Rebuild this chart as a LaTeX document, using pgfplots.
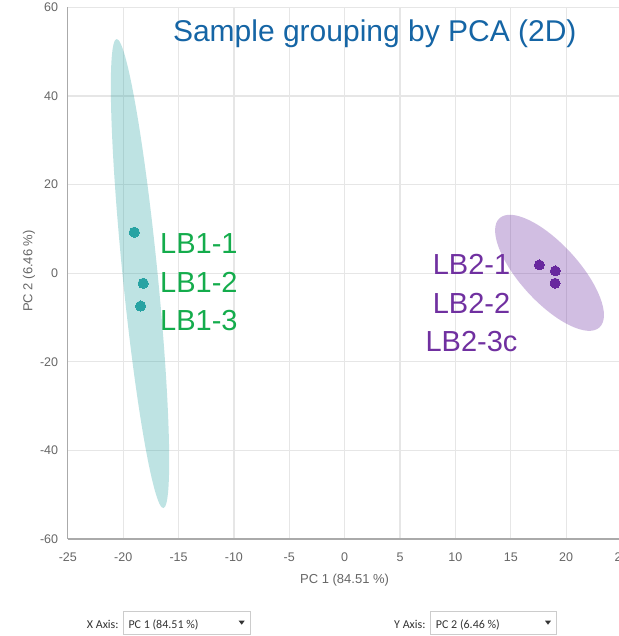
\documentclass[border=0pt]{standalone}
\usepackage{fontspec}
\setmainfont{Liberation Sans}
\newfontfamily\uifont{Carlito}
\usepackage{pgfplots}
\pgfplotsset{compat=1.18}
\definecolor{tealdot}{RGB}{40,163,163}
\definecolor{purpdot}{RGB}{104,40,158}
\definecolor{greentxt}{RGB}{20,172,76}
\definecolor{purptxt}{RGB}{112,48,160}
\definecolor{titleblue}{RGB}{21,101,165}
\definecolor{tickgray}{RGB}{102,102,102}
\definecolor{gridgray}{RGB}{230,230,230}
\definecolor{axisgray}{RGB}{170,170,170}
\definecolor{boxgray}{RGB}{204,204,204}
\definecolor{uitext}{RGB}{51,51,51}
\begin{document}
\begin{tikzpicture}[x=1pt,y=1pt]
\begin{axis}[
  at={(67.8pt,97pt)}, anchor=south west, scale only axis,
  width=553.7pt, height=531.5pt,
  xmin=-25, xmax=25, ymin=-60, ymax=60,
  xtick={-25,-20,...,25}, ytick={-60,-40,...,60},
  axis x line*=bottom, axis y line*=left,
  axis line style={axisgray, line width=1.2pt},
  grid=major, major grid style={gridgray, line width=1.2pt},
  major tick length=0pt,
  /pgf/number format/assume math mode=true,
  ticklabel style={font=\fontsize{12.5}{12.5}\selectfont, text=tickgray, inner sep=0pt},
  xticklabel style={anchor=base, yshift=-22.5pt},
  yticklabel style={anchor=east, xshift=-9.5pt},
]
\fill[tealdot, fill opacity=0.3, rotate around={95.7:(axis cs:-18.48,-0.07)}]
  (axis cs:-18.48,-0.07) ellipse [x radius=235.7pt, y radius=17.5pt];
\fill[purpdot, fill opacity=0.3, rotate around={-47.5:(axis cs:18.5,0.1)}]
  (axis cs:18.5,0.1) ellipse [x radius=74pt, y radius=29.2pt];
\addplot[only marks, mark=*, mark size=5.1pt, tealdot, mark options={line width=0pt}]
  coordinates {(-19.0,9.26) (-18.19,-2.26) (-18.42,-7.4)};
\addplot[only marks, mark=*, mark size=5.0pt, purpdot, mark options={line width=0pt}]
  coordinates {(17.58,1.87) (19.02,0.52) (19.0,-2.26)};
\end{axis}
% title
\node[anchor=base, font=\fontsize{30}{30}\selectfont, text=titleblue, inner sep=0pt] at (374.8pt,594.3pt) {Sample grouping by PCA (2D)};
% group labels
\begin{scope}[every node/.style={font=\fontsize{29}{29}\selectfont, inner sep=0pt}]
\node[anchor=base west, text=greentxt] at (160pt,382.5pt) {LB1-1};
\node[anchor=base west, text=greentxt] at (160pt,343.5pt) {LB1-2};
\node[anchor=base west, text=greentxt] at (160pt,305.5pt) {LB1-3};
\node[anchor=base, text=purptxt] at (471.5pt,361pt) {LB2-1};
\node[anchor=base, text=purptxt] at (471.5pt,322.7pt) {LB2-2};
\node[anchor=base, text=purptxt] at (471.5pt,284.3pt) {LB2-3c};
\end{scope}
% axis labels
\node[anchor=base, font=\fontsize{13}{13}\selectfont, text=tickgray, inner sep=0pt] at (344.6pt,52pt) {PC 1 (84.51 \%)};
\node[rotate=90, anchor=center, font=\fontsize{13}{13}\selectfont, text=tickgray, inner sep=0pt] at (29pt,365pt) {PC 2 (6.46 \%)};
% selector widgets
\begin{scope}[every node/.style={font=\uifont\fontsize{12}{12}\selectfont, text=uitext, inner sep=0pt, anchor=base west}]
\node at (86.7pt,8pt) {X Axis:};
\draw[boxgray, line width=0.8pt] (123.3pt,2pt) rectangle (250pt,24.3pt);
\node at (128.3pt,8pt) {PC 1 (84.51 \%)};
\fill[uitext] (238.7pt,15.3pt) -- (244.7pt,15.3pt) -- (241.7pt,11.3pt) -- cycle;
\node at (394pt,8pt) {Y Axis:};
\draw[boxgray, line width=0.8pt] (430.7pt,2pt) rectangle (556.7pt,24.3pt);
\node at (435.7pt,8pt) {PC 2 (6.46 \%)};
\fill[uitext] (545pt,15.3pt) -- (551pt,15.3pt) -- (548pt,11.3pt) -- cycle;
\end{scope}
\pgfresetboundingbox
\useasboundingbox (0pt,0pt) rectangle (618pt,636pt);
\end{tikzpicture}
\end{document}
